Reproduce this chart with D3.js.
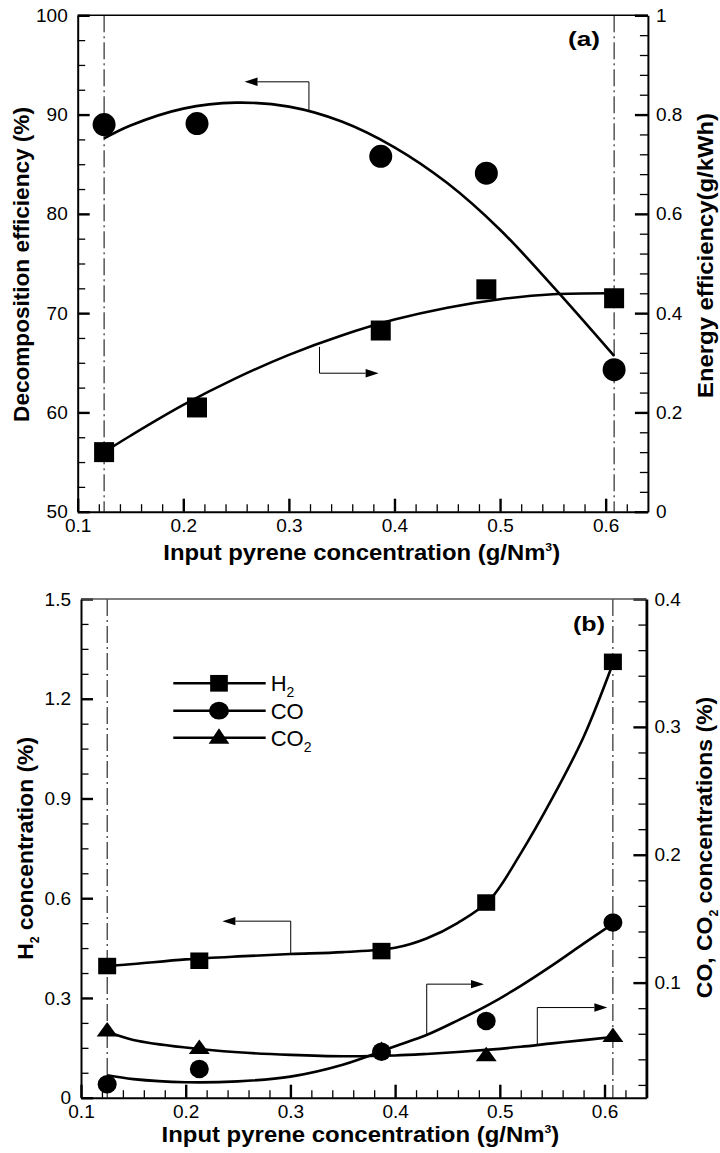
<!DOCTYPE html>
<html>
<head>
  <meta charset="utf-8">
  <script src="https://d3js.org/d3.v7.min.js"></script>
  <style>
    body { margin: 0; background: #ffffff; }
    svg { display: block; }
  </style>
</head>
<body>
<script type="text/javascript">
"use strict";

/*
  Values
*/
var concX = [0.125, 0.213, 0.387, 0.487, 0.608];
var xTicks = [0.1, 0.2, 0.3, 0.4, 0.5, 0.6];

// panel (a)
var decompEff = [89.0, 89.1, 85.8, 84.1, 64.3];
var energyEff = [0.12, 0.21, 0.365, 0.448, 0.43];
var fitXa = [0.125, 0.15, 0.2, 0.25, 0.3, 0.35, 0.4, 0.45, 0.5, 0.55, 0.608];
var decompFit = [87.6, 88.9, 90.6, 91.2, 90.8, 89.3, 86.7, 83.1, 78.4, 72.7, 65.7];
var energyFit = [0.12, 0.153, 0.215, 0.269, 0.316, 0.355, 0.387, 0.411, 0.428, 0.438, 0.44];
var yTicksA = [50, 60, 70, 80, 90, 100];
var yTicksA2 = [0, 0.2, 0.4, 0.6, 0.8, 1];

// panel (b)
var h2Conc = [0.396, 0.412, 0.441, 0.587, 1.311];
var coConc = [0.0205, 0.0325, 0.046, 0.070, 0.147];
var co2Conc = [0.0617, 0.048, 0.0464, 0.0422, 0.0573];
var fitXb = [0.125, 0.15, 0.2, 0.25, 0.3, 0.35, 0.4, 0.43, 0.46, 0.49, 0.52, 0.55, 0.58, 0.608];
var h2Fit = [0.396, 0.402, 0.416, 0.425, 0.432, 0.438, 0.451, 0.479, 0.526, 0.594, 0.735, 0.90, 1.085, 1.306];
var coFit = [0.0275, 0.0245, 0.0221, 0.0228, 0.0265, 0.0358, 0.0503, 0.059, 0.0705, 0.083, 0.0975, 0.1135, 0.1305, 0.146];
var co2Fit = [0.0615, 0.0552, 0.0492, 0.0455, 0.0435, 0.0424, 0.043, 0.0442, 0.0458, 0.0476, 0.0498, 0.0525, 0.055, 0.0575];
var yTicksB = [0, 0.3, 0.6, 0.9, 1.2, 1.5];
var yTicksB2 = [0.1, 0.2, 0.3, 0.4];
var legendNames = ["H", "CO", "CO"];
var legendSubs = ["2", "", "2"];

// annotation arrows (data units), "axis" says which y scale they follow
var arrowsA = [
  {x: 0.319, from: 90.46, to: 93.3, tip: 0.258, axis: "left"},
  {x: 0.329, from: 0.332, to: 0.279, tip: 0.385, axis: "right"}
];
var arrowsB = [
  {x: 0.3003, from: 0.432, to: 0.531, tip: 0.235, axis: "left"},
  {x: 0.4302, from: 0.0597, to: 0.0988, tip: 0.4849, axis: "right"},
  {x: 0.5358, from: 0.0513, to: 0.0805, tip: 0.6027, axis: "right"}
];

var FONT = "'Liberation Sans', Arial, Helvetica, sans-serif";

var svg = d3.select("body").append("svg")
    .attr("width", 720)
    .attr("height", 1153)
    .style("font-family", FONT);

function minorTicks(lo, hi, step, majors) {
  return d3.range(Math.round((hi - lo) / step) + 1)
    .map(function (i) { return +(lo + i * step).toFixed(4); })
    .filter(function (v) {
      return majors.every(function (m) { return Math.abs(m - v) > 1e-6; });
    });
}

function styleAxis(sel, major, domainWidth) {
  sel.attr("font-family", FONT).attr("font-size", 19);
  sel.selectAll(".tick line").attr("stroke", "#000").attr("stroke-width", major ? 2.4 : 1.3);
  sel.selectAll("text").attr("fill", "#000");
  if (domainWidth) sel.select(".domain").attr("stroke", "#000").attr("stroke-width", domainWidth);
  else sel.select(".domain").remove();
}

/*
  Axes for one panel
*/
function drawAxes(g, box, x, yL, yR, o) {
  // bottom
  var b = g.append("g").attr("transform", "translate(0," + box.bottom + ")");
  b.append("g")
    .call(d3.axisBottom(x).tickValues(minorTicks(0.1, 0.62, 0.02, xTicks))
      .tickSize(-7.5).tickSizeOuter(0).tickFormat(""))
    .call(styleAxis, false, 0);
  b.append("g")
    .call(d3.axisBottom(x).tickValues(xTicks).tickSize(-13).tickSizeOuter(0)
      .tickPadding(6.5).tickFormat(d3.format(".1f")))
    .call(styleAxis, true, 2);

  // left
  var l = g.append("g").attr("transform", "translate(" + box.left + ",0)");
  l.append("g")
    .call(d3.axisLeft(yL).tickValues(o.leftMinor).tickSize(-7.5).tickSizeOuter(0).tickFormat(""))
    .call(styleAxis, false, 0);
  l.append("g")
    .call(d3.axisLeft(yL).tickValues(o.leftTicks).tickSize(-12).tickSizeOuter(0)
      .tickPadding(10).tickFormat(function (d) { return String(d); }))
    .call(styleAxis, true, 2);

  // right
  var r = g.append("g").attr("transform", "translate(" + box.right + ",0)");
  r.append("g")
    .call(d3.axisRight(yR).tickValues(o.rightMinor).tickSize(-8).tickSizeOuter(0).tickFormat(""))
    .call(styleAxis, false, 0);
  r.append("g")
    .call(d3.axisRight(yR).tickValues(o.rightTicks).tickSize(-13).tickSizeOuter(0)
      .tickPadding(8).tickFormat(function (d) { return String(d); }))
    .call(styleAxis, true, o.rightWidth);

  // top frame line
  g.append("line")
    .attr("x1", box.left).attr("x2", box.right)
    .attr("y1", box.top).attr("y2", box.top)
    .attr("stroke", o.topColor).attr("stroke-width", o.topWidth);
}

function refLines(g, box, x) {
  [concX[0], concX[concX.length - 1]].forEach(function (v) {
    g.append("line")
      .attr("x1", x(v)).attr("x2", x(v))
      .attr("y1", box.top).attr("y2", box.bottom)
      .attr("stroke", "#000").attr("stroke-width", 1)
      .attr("stroke-dasharray", "17,4,2,4");
  });
}

function fitLine(g, xs, ys, x, y) {
  var line = d3.line()
    .x(function (d) { return x(d[0]); })
    .y(function (d) { return y(d[1]); })
    .curve(d3.curveCatmullRom.alpha(0.5));
  g.append("path")
    .datum(d3.zip(xs, ys))
    .attr("d", line)
    .attr("fill", "none")
    .attr("stroke", "#000")
    .attr("stroke-width", 2.6);
}

function shapePath(type, cx, cy, w, h) {
  var p = d3.path();
  if (type === "square") {
    p.rect(cx - w / 2, cy - h / 2, w, h);
  } else {
    p.moveTo(cx, cy - h * 2 / 3);
    p.lineTo(cx + w / 2, cy + h / 3);
    p.lineTo(cx - w / 2, cy + h / 3);
    p.closePath();
  }
  return p.toString();
}

function ellipsePath(cx, cy, rx, ry) {
  return "M" + (cx - rx) + "," + cy +
    "A" + rx + "," + ry + " 0 1,0 " + (cx + rx) + "," + cy +
    "A" + rx + "," + ry + " 0 1,0 " + (cx - rx) + "," + cy + "Z";
}

function markers(g, type, xs, ys, x, y, w, h) {
  g.selectAll(null)
    .data(d3.zip(xs, ys))
    .enter()
    .append("path")
    .attr("d", function (d) {
      var cx = x(d[0]), cy = y(d[1]);
      return type === "circle" ? ellipsePath(cx, cy, w / 2, h / 2) : shapePath(type, cx, cy, w, h);
    })
    .attr("fill", "#000");
}

function drawArrows(g, list, x, yL, yR) {
  list.forEach(function (a) {
    var y = a.axis === "left" ? yL : yR;
    var px = x(a.x), p0 = y(a.from), p1 = y(a.to), tip = x(a.tip);
    var dir = tip < px ? -1 : 1;
    var base = tip - dir * 13;
    g.append("path")
      .attr("d", "M" + px + "," + p0 + "V" + p1 + "H" + base)
      .attr("fill", "none").attr("stroke", "#000").attr("stroke-width", 1);
    g.append("path")
      .attr("d", "M" + tip + "," + p1 + "L" + base + "," + (p1 - 4.2) + "L" + base + "," + (p1 + 4.2) + "Z")
      .attr("fill", "#000");
  });
}

/*
  text that is squeezed/stretched to the measured length
*/
function fittedText(g, parts, x, y, angle, size, length, bold, anchor) {
  var t = g.append("text")
    .attr("text-anchor", anchor || "middle")
    .attr("font-weight", bold ? "bold" : "normal")
    .attr("font-size", size)
    .attr("fill", "#000");
  parts.forEach(function (p) {
    var s = t.append("tspan").text(p[0]);
    if (p[1]) s.attr("dy", p[1]);
    if (p[2]) s.attr("font-size", p[2]);
  });
  var sx = length ? length / t.node().getComputedTextLength() : 1;
  t.attr("transform", "translate(" + x + "," + y + ") rotate(" + angle + ") scale(" + sx + ",1)");
  return t;
}

/*
  Panel (a)
*/
var boxA = {left: 77.7, right: 647.9, top: 15.3, bottom: 511.7};
var xA = d3.scaleLinear().domain([0.1, 0.64]).range([boxA.left, boxA.right]);
var yA = d3.scaleLinear().domain([50, 100]).range([boxA.bottom, boxA.top]);
var yA2 = d3.scaleLinear().domain([0, 1]).range([boxA.bottom, boxA.top]);

var gA = svg.append("g").attr("class", "panel-a");
refLines(gA, boxA, xA);
fitLine(gA, fitXa, decompFit, xA, yA);
fitLine(gA, fitXa, energyFit, xA, yA2);
drawArrows(gA, arrowsA, xA, yA, yA2);
markers(gA, "circle", concX, decompEff, xA, yA, 23, 23);
markers(gA, "square", concX, energyEff, xA, yA2, 20, 20);
drawAxes(gA, boxA, xA, yA, yA2, {
  leftTicks: yTicksA, leftMinor: minorTicks(50, 100, 2.5, yTicksA),
  rightTicks: yTicksA2, rightMinor: minorTicks(0, 1, 0.04, yTicksA2),
  rightWidth: 2, topColor: "#000", topWidth: 1.5
});
fittedText(gA, [["(a)"]], 600, 46, 0, 21, 32, true, "end");
fittedText(gA, [["Input pyrene concentration (g/Nm"], ["3", -9, 11], [")", 9]],
  361.7, 560, 0, 21.5, 397, true);
fittedText(gA, [["Decomposition efficiency (%)"]], 28.5, 264.5, -90, 22.5, 315, true);
fittedText(gA, [["Energy efficiency(g/kWh)"]], 713.3, 255.5, -90, 22.5, 285, true);

/*
  Panel (b)
*/
var boxB = {left: 81, right: 646.4, top: 599, bottom: 1097.7};
var xB = d3.scaleLinear().domain([0.1, 0.64]).range([boxB.left, boxB.right]);
var yB = d3.scaleLinear().domain([0, 1.5]).range([boxB.bottom, boxB.top]);
var yB2 = d3.scaleLinear().domain([0.01, 0.4]).range([boxB.bottom, boxB.top]);

var gB = svg.append("g").attr("class", "panel-b");
refLines(gB, boxB, xB);
fitLine(gB, fitXb, h2Fit, xB, yB);
fitLine(gB, fitXb, coFit, xB, yB2);
fitLine(gB, fitXb, co2Fit, xB, yB2);
drawArrows(gB, arrowsB, xB, yB, yB2);
markers(gB, "triangle", concX, co2Conc, xB, yB2, 21, 14.5);
markers(gB, "circle", concX, coConc, xB, yB2, 19, 18.5);
markers(gB, "square", concX, h2Conc, xB, yB, 18, 16.5);
drawAxes(gB, boxB, xB, yB, yB2, {
  leftTicks: yTicksB, leftMinor: minorTicks(0, 1.5, 0.075, yTicksB),
  rightTicks: yTicksB2, rightMinor: minorTicks(0.02, 0.4, 0.02, yTicksB2),
  rightWidth: 2.8, topColor: "#555", topWidth: 1.3
});
fittedText(gB, [["(b)"]], 605, 631, 0, 21, 32, true, "end");
fittedText(gB, [["Input pyrene concentration (g/Nm"], ["3", -9, 11], [")", 9]],
  360.4, 1142, 0, 21.5, 398, true);
fittedText(gB, [["H"], ["2", 6, 12], [" concentration (%)", -6]], 32.5, 848.4, -90, 22.5, 223, true);
fittedText(gB, [["CO, CO"], ["2", 6, 12], [" concentrations (%)", -6]], 712, 847.5, -90, 22.5, 301.6, true);

// legend
var legend = gB.append("g").attr("transform", "translate(" + boxB.left + "," + boxB.top + ")");
var legendRows = [84.3, 111.7, 138.7];
var legendShapes = [["square", 17.7, 16.7], ["circle", 20, 17.7], ["triangle", 20.7, 15.5]];
legendRows.forEach(function (ly, i) {
  legend.append("line")
    .attr("x1", 92.3).attr("x2", 184.7)
    .attr("y1", ly).attr("y2", ly)
    .attr("stroke", "#000").attr("stroke-width", 2.6);
  var s = legendShapes[i];
  legend.append("path")
    .attr("d", s[0] === "circle" ? ellipsePath(138, ly, s[1] / 2, s[2] / 2)
      : shapePath(s[0], 138, s[0] === "triangle" ? ly + 1 : ly, s[1], s[2]))
    .attr("fill", "#000");
  var t = legend.append("text")
    .attr("x", 189.7).attr("y", ly + 7.8)
    .attr("font-size", 22).attr("fill", "#000")
    .text(legendNames[i]);
  if (legendSubs[i]) t.append("tspan").attr("dy", 6).attr("font-size", 14).text(legendSubs[i]);
});
</script>
</body>
</html>
